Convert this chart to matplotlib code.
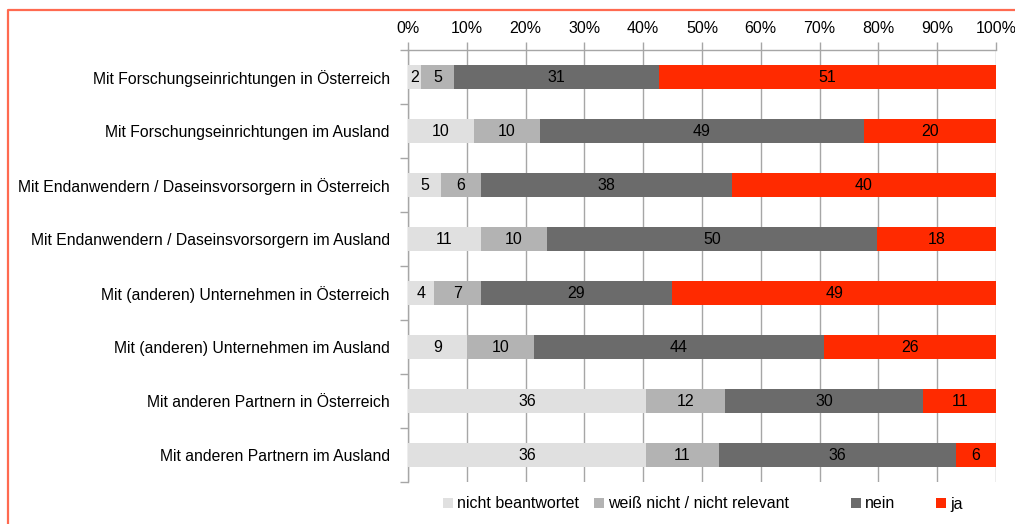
import matplotlib.pyplot as plt
from matplotlib.lines import Line2D
from matplotlib.patches import Patch
import numpy as np

plt.rcParams['font.family'] = ['Liberation Sans Narrow', 'Liberation Sans', 'DejaVu Sans']

categories = [
    "Mit Forschungseinrichtungen in Österreich",
    "Mit Forschungseinrichtungen im Ausland",
    "Mit Endanwendern / Daseinsvorsorgern in Österreich",
    "Mit Endanwendern / Daseinsvorsorgern im Ausland",
    "Mit (anderen) Unternehmen in Österreich",
    "Mit (anderen) Unternehmen im Ausland",
    "Mit anderen Partnern in Österreich",
    "Mit anderen Partnern im Ausland",
]
series_names = ["nicht beantwortet", "weiß nicht / nicht relevant", "nein", "ja"]
nicht_beantwortet = [2, 10, 5, 11, 4, 9, 36, 36]
weiss_nicht = [5, 10, 6, 10, 7, 10, 12, 11]
nein = [31, 49, 38, 50, 29, 44, 30, 36]
ja = [51, 20, 40, 18, 49, 26, 11, 6]
colors = ["#e0e0e0", "#b3b3b3", "#6b6b6b", "#ff2a00"]

data = np.array([nicht_beantwortet, weiss_nicht, nein, ja], dtype=float)
totals = data.sum(axis=0)
shares = data / totals

fig = plt.figure(figsize=(10.15, 5.24), dpi=100, facecolor="white")
ax = fig.add_axes([408 / 1015, 1 - 482 / 524, (996 - 408) / 1015, (482 - 50) / 524])

y = np.arange(len(categories))
left = np.zeros(len(categories))
for vals, share, name, col in zip(data, shares, series_names, colors):
    ax.barh(y, share, left=left, height=0.44, color=col, label=name, zorder=3)
    for yi, v, l, s in zip(y, vals, left, share):
        ax.text(l + s / 2, yi, f"{int(v)}", ha="center", va="center",
                fontsize=11.5, color="black", zorder=4)
    left += share

ax.set_xlim(0, 1)
ax.set_ylim(len(categories) - 0.5, -0.5)
ax.set_yticks(y)
ax.set_yticklabels(categories, fontsize=11.3)
ax.set_yticks(np.arange(len(categories) + 1) - 0.5, minor=True)
ax.tick_params(axis="y", which="major", length=0, pad=13)
ax.tick_params(axis="y", which="minor", length=6, color="#a6a6a6", width=1)

ax.xaxis.tick_top()
ax.set_xticks(np.linspace(0, 1, 11))
ax.set_xticklabels([f"{i}%" for i in range(0, 101, 10)], fontsize=11.5)
ax.tick_params(axis="x", length=6, color="#a6a6a6", width=1, pad=4)
ax.grid(axis="x", color="#a6a6a6", linewidth=1, zorder=0)

for side in ["right", "bottom"]:
    ax.spines[side].set_visible(False)
for side in ["left", "top"]:
    ax.spines[side].set_color("#a6a6a6")
    ax.spines[side].set_linewidth(1)

# legend entries at the positions used in the original layout
legend_x = [443, 594, 851, 936]
for lx, name, col in zip(legend_x, series_names, colors):
    fig.legend([Patch(facecolor=col, edgecolor="none")], [name], loc="center left",
               bbox_to_anchor=(lx / 1015, 1 - 504 / 524), frameon=False, fontsize=11.5,
               handlelength=0.6, handleheight=0.6, handletextpad=0.3,
               borderpad=0, borderaxespad=0)

# red frame around the chart area
fig.add_artist(Line2D([7.5 / 1015, 7.5 / 1015, 1.0], [0.0, 1 - 10 / 524, 1 - 10 / 524],
                      transform=fig.transFigure, color="#ff6a50", linewidth=1.6))

fig.savefig("out.png", dpi=100, facecolor="white")
